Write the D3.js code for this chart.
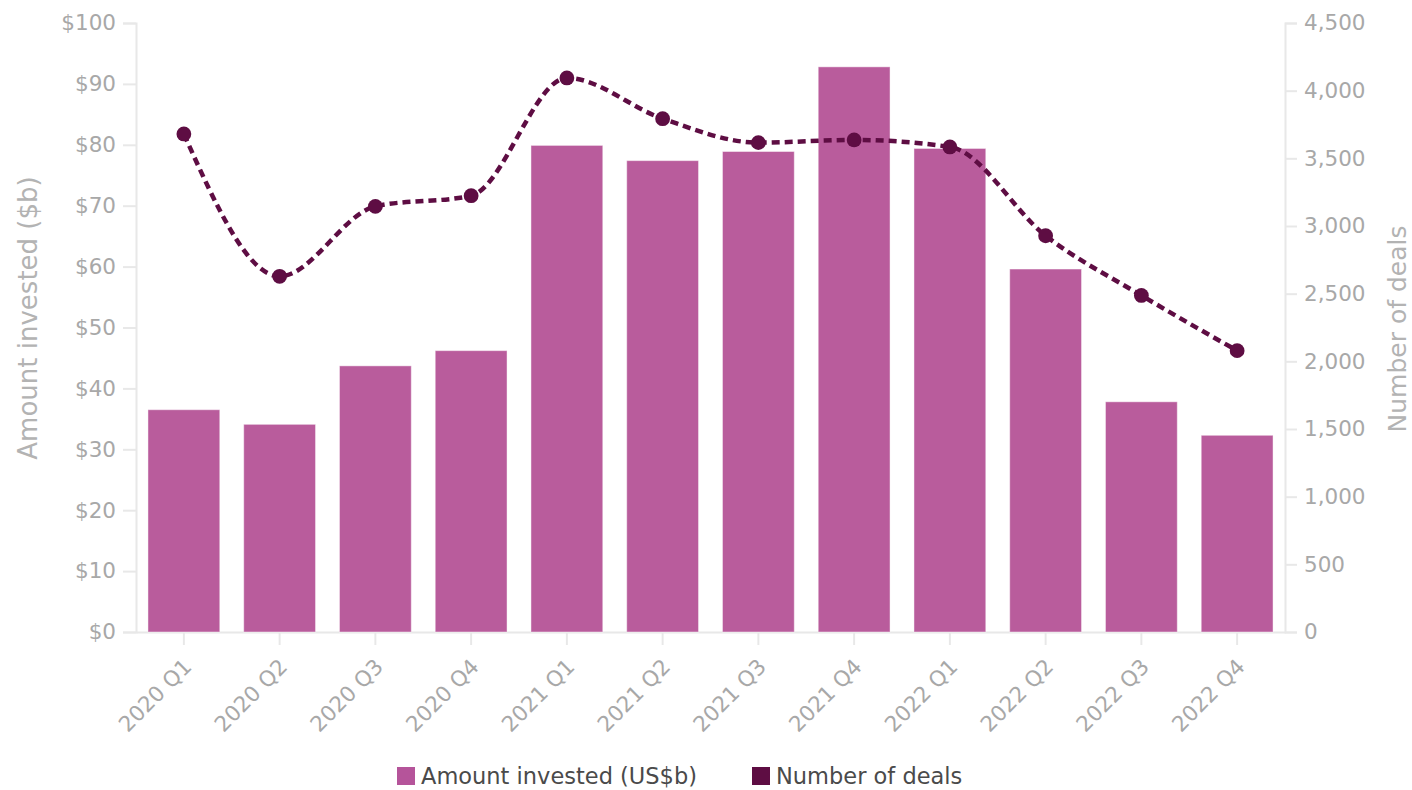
<!DOCTYPE html>
<html>
<head>
<meta charset="utf-8">
<script src="https://cdn.jsdelivr.net/npm/d3@7"></script>
<style>
  html, body { margin: 0; padding: 0; background: #ffffff; }
  svg { display: block; font-family: "DejaVu Sans", sans-serif; }
</style>
</head>
<body>
<svg id="chart" width="1412" height="790"></svg>
<script>
// Quarterly venture activity: amount invested (bars) and deal count (line)
const quarters = ["2020 Q1","2020 Q2","2020 Q3","2020 Q4","2021 Q1","2021 Q2","2021 Q3","2021 Q4","2022 Q1","2022 Q2","2022 Q3","2022 Q4"];
const amountInvested = [36.5, 34.1, 43.7, 46.2, 79.9, 77.4, 78.9, 92.8, 79.4, 59.6, 37.8, 32.3];
const dealCount = [3680, 2628, 3145, 3224, 4094, 3793, 3616, 3636, 3584, 2928, 2487, 2079];
const leftTicks = [0, 10, 20, 30, 40, 50, 60, 70, 80, 90, 100];
const rightTicks = [0, 500, 1000, 1500, 2000, 2500, 3000, 3500, 4000, 4500];
const legendLabels = ["Amount invested (US$b)", "Number of deals"];

const W = 1412, H = 790;
const margin = { top: 23, right: 127, bottom: 158, left: 136 };
const innerW = W - margin.left - margin.right;
const innerH = H - margin.top - margin.bottom;

const barColor = "#b95c9c";
const lineColor = "#5e0d43";
const axisColor = "#e8e8e8";
const tickText = "#a8a8a8";

const svg = d3.select("#chart");
const g = svg.append("g").attr("transform", `translate(${margin.left},${margin.top})`);

const x = d3.scaleBand().domain(quarters).range([0, innerW]).paddingInner(0.25).paddingOuter(0.125);
const yL = d3.scaleLinear().domain([0, 100]).range([innerH, 0]);
const yR = d3.scaleLinear().domain([0, 4500]).range([innerH, 0]);

function styleAxis(sel) {
  sel.selectAll(".domain").attr("stroke", axisColor).attr("stroke-width", 2);
  sel.selectAll(".tick line").attr("stroke", axisColor).attr("stroke-width", 2);
  sel.selectAll(".tick text").attr("fill", tickText).style("font-size", "21.5px").style("font-family", "DejaVu Sans, sans-serif");
}

// Left axis (US$b)
const axL = g.append("g")
  .call(d3.axisLeft(yL).tickValues(leftTicks).tickFormat(d => "$" + d).tickSize(13).tickPadding(7));
styleAxis(axL);

// Right axis (deals)
const axR = g.append("g").attr("transform", `translate(${innerW},0)`)
  .call(d3.axisRight(yR).tickValues(rightTicks).tickFormat(d3.format(",")).tickSize(12).tickPadding(7));
styleAxis(axR);

// Bottom axis
const axB = g.append("g").attr("transform", `translate(0,${innerH})`)
  .call(d3.axisBottom(x).tickSize(13).tickSizeOuter(0));
styleAxis(axB);
axB.selectAll(".tick text")
  .attr("text-anchor", "end")
  .attr("x", 0).attr("y", 0).attr("dy", 0)
  .attr("transform", "translate(9,36) rotate(-45)");

// Bars
g.append("g").selectAll("rect")
  .data(quarters)
  .join("rect")
  .attr("x", d => x(d))
  .attr("width", x.bandwidth())
  .attr("y", (d, i) => yL(amountInvested[i]))
  .attr("height", (d, i) => innerH - yL(amountInvested[i]))
  .attr("fill", barColor)
  .attr("stroke", "#ffffff")
  .attr("stroke-opacity", 0.45)
  .attr("stroke-width", 1);

// Deal count line
const pts = quarters.map((q, i) => [x(q) + x.bandwidth() / 2, yR(dealCount[i])]);
g.append("path")
  .datum(pts)
  .attr("fill", "none")
  .attr("stroke", lineColor)
  .attr("stroke-width", 4.5)
  .attr("stroke-dasharray", "8,5")
  .attr("d", d3.line().curve(d3.curveMonotoneX));

g.append("g").selectAll("circle")
  .data(pts)
  .join("circle")
  .attr("cx", d => d[0])
  .attr("cy", d => d[1])
  .attr("r", 7.4)
  .attr("fill", lineColor);

// Axis titles
svg.append("text")
  .attr("transform", `translate(37,318) rotate(-90)`)
  .attr("text-anchor", "middle")
  .attr("fill", "#b3b3b3")
  .style("font-size", "26px")
  .text("Amount invested ($b)");

svg.append("text")
  .attr("transform", `translate(1406,329) rotate(-90)`)
  .attr("text-anchor", "middle")
  .attr("fill", "#b3b3b3")
  .style("font-size", "25px")
  .text("Number of deals");

// Legend
const legend = svg.append("g");
const legendX = [397, 752];
const legendColors = ["#b5549a", lineColor];
legendLabels.forEach((label, i) => {
  const item = legend.append("g").attr("transform", `translate(${legendX[i]},767)`);
  item.append("rect").attr("width", 18).attr("height", 18).attr("fill", legendColors[i]);
  item.append("text").attr("x", 24).attr("y", 17)
    .attr("fill", "#4a4a4a").style("font-size", "22.5px").text(label);
});
</script>
</body>
</html>
